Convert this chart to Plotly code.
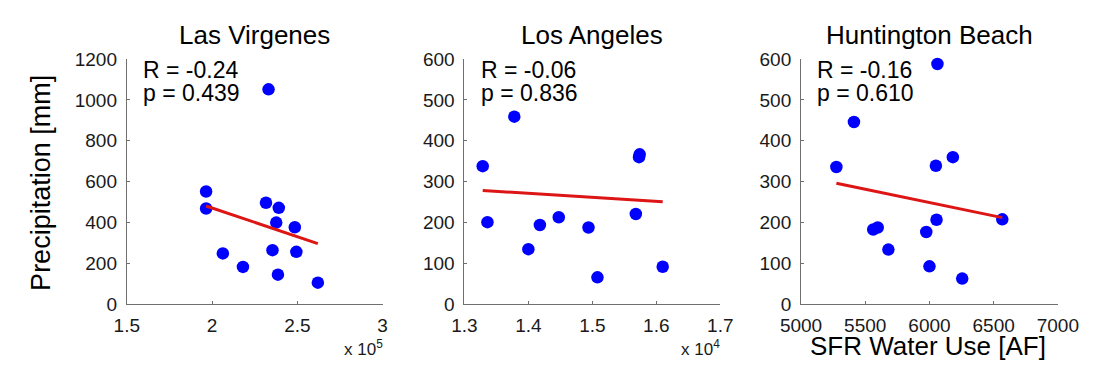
import numpy as np
import plotly.graph_objects as go

# Single-family residential water use vs. precipitation, three utilities
titles = ["Las Virgenes", "Los Angeles", "Huntington Beach"]

lv_use = [1.965, 1.965, 2.063, 2.181, 2.316, 2.331, 2.391, 2.376, 2.354, 2.386, 2.485, 2.494, 2.620]
lv_precip = [552, 469, 249, 183, 497, 1052, 472, 400, 265, 145, 377, 257, 106]

la_use = [1.3286, 1.336, 1.378, 1.400, 1.418, 1.4475, 1.494, 1.507, 1.508, 1.568, 1.573, 1.574, 1.610]
la_precip = [338, 201, 459, 135, 194, 213, 188, 602, 66, 221, 360, 367, 92]

hb_use = [5275, 5412, 5562, 5597, 5680, 5975, 6000, 6062, 6050, 6055, 6182, 6255, 6567]
hb_precip = [336, 446, 183, 188, 134, 177, 93, 588, 339, 207, 360, 63, 208]

r_labels = ["R = -0.24", "R = -0.06", "R = -0.16"]
p_labels = ["p = 0.439", "p = 0.836", "p = 0.610"]
exponents = ["x 10<sup>5</sup>", "x 10<sup>4</sup>", None]

x_ranges = [[1.5, 3.0], [1.3, 1.7], [5000, 7000]]
x_ticks = [[1.5, 2, 2.5, 3], [1.3, 1.4, 1.5, 1.6, 1.7], [5000, 5500, 6000, 6500, 7000]]
x_ticklabels = [["1.5", "2", "2.5", "3"], ["1.3", "1.4", "1.5", "1.6", "1.7"],
                ["5000", "5500", "6000", "6500", "7000"]]
y_ranges = [[0, 1200], [0, 600], [0, 600]]
y_ticks = [list(range(0, 1201, 200)), list(range(0, 601, 100)), list(range(0, 601, 100))]

W, H = 1101, 371
px_x = [(110, 376), (461, 727), (811, 1078)]
px_y = (52, 312)

FONT = "Liberation Sans, Arial, sans-serif"
TXT = "#1a1a1a"
AX = "#707070"


def py(v):
    """Pixel row (from top) to paper fraction."""
    return (H - v) / H


fig = go.Figure()
series = [(lv_use, lv_precip), (la_use, la_precip), (hb_use, hb_precip)]
annotations = []

for i, (xs, ys) in enumerate(series):
    n = "" if i == 0 else str(i + 1)
    xa, ya = "x" + n, "y" + n
    xs_a, ys_a = np.array(xs), np.array(ys)
    slope, icpt = np.polyfit(xs_a, ys_a, 1)
    fx = np.array([xs_a.min(), xs_a.max()])
    fig.add_trace(go.Scatter(x=xs, y=ys, mode="markers", xaxis=xa, yaxis=ya,
                             marker=dict(color="#0000ff", size=12.5, line=dict(width=0)),
                             showlegend=False, cliponaxis=False))
    fig.add_trace(go.Scatter(x=fx, y=slope * fx + icpt, mode="lines", xaxis=xa, yaxis=ya,
                             line=dict(color="#dd1515", width=3), showlegend=False))

    x0, x1 = px_x[i]
    dom_x = [x0 / W, x1 / W]
    dom_y = [py(px_y[1]), py(px_y[0])]
    fig.layout["xaxis" + n] = dict(
        domain=dom_x, range=x_ranges[i], tickvals=x_ticks[i], ticktext=x_ticklabels[i],
        showline=True, linecolor=AX, linewidth=1, ticks="inside", ticklen=3,
        tickcolor=AX, showgrid=False, zeroline=False, anchor=ya, ticklabelstandoff=4,
        tickfont=dict(family=FONT, size=19, color=TXT))
    fig.layout["yaxis" + n] = dict(
        domain=dom_y, range=y_ranges[i], tickvals=y_ticks[i],
        showline=True, linecolor=AX, linewidth=1, ticks="inside", ticklen=3,
        tickcolor=AX, showgrid=False, zeroline=False, anchor=xa, ticklabelstandoff=5,
        tickfont=dict(family=FONT, size=19, color=TXT))

    annotations.append(dict(text=titles[i], xref="paper", yref="paper",
                            x=(x0 + x1) / 2 / W, y=py(27), xanchor="center", yanchor="middle",
                            showarrow=False, font=dict(family=FONT, size=26, color="#000")))
    annotations.append(dict(text=r_labels[i], xref="paper", yref="paper",
                            x=(x0 + 15) / W, y=py(64), xanchor="left", yanchor="middle",
                            showarrow=False, font=dict(family=FONT, size=23, color="#000")))
    annotations.append(dict(text=p_labels[i], xref="paper", yref="paper",
                            x=(x0 + 15) / W, y=py(88), xanchor="left", yanchor="middle",
                            showarrow=False, font=dict(family=FONT, size=23, color="#000")))
    if exponents[i]:
        annotations.append(dict(text=exponents[i], xref="paper", yref="paper",
                                x=(x1 + 2) / W, y=py(358), xanchor="right", yanchor="middle",
                                showarrow=False, font=dict(family=FONT, size=17, color=TXT)))

annotations.append(dict(text="Precipitation [mm]", xref="paper", yref="paper",
                        x=20 / W, y=py(183), textangle=-90, xanchor="center",
                        yanchor="middle", showarrow=False,
                        font=dict(family=FONT, size=27, color="#000")))
annotations.append(dict(text="SFR Water Use [AF]", xref="paper", yref="paper",
                        x=943 / W, y=py(356), xanchor="center", yanchor="middle",
                        showarrow=False, font=dict(family=FONT, size=26, color="#000")))

fig.update_layout(width=W, height=H, margin=dict(l=0, r=0, t=0, b=0),
                  paper_bgcolor="white", plot_bgcolor="white",
                  annotations=annotations)

fig.write_html("out.html")
